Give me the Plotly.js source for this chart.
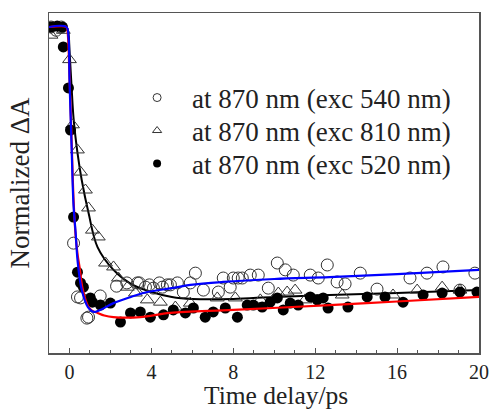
<!DOCTYPE html>
<html>
<head>
<meta charset="utf-8">
<script src="https://cdn.plot.ly/plotly-3.0.1.min.js"></script>
<style>html,body{margin:0;padding:0;background:#fff;}#chart{width:489px;height:410px;}</style>
</head>
<body>
<div id="chart"></div>
<script>
// ---- data (y normalized to plateau = 1) ----
var seriesNames = ["at 870 nm (exc 540 nm)", "at 870 nm (exc 810 nm)", "at 870 nm (exc 520 nm)"];
var xTitle = "Time delay/ps";
var yTitle = "Normalized ΔA";

// open circles: exc 540 nm
var t540 = [-0.9,-0.65,-0.4,0.2,0.39,0.54,0.85,0.93,1.5,2.3,2.8,3.32,3.41,3.71,3.9,4.1,4.39,4.54,4.78,4.93,5.27,5.56,5.9,6.15,6.54,7.27,7.51,7.85,8.0,8.24,8.44,8.83,9.22,9.71,10.15,10.54,10.93,11.76,12.15,12.59,13.07,13.46,14.2,15.02,16.63,17.46,18.24,19.07,19.8];
var y540 = [1.0,0.99,1.0,0.337,0.172,0.169,0.107,0.11,0.175,0.205,0.215,0.215,0.215,0.202,0.209,0.199,0.215,0.202,0.209,0.209,0.215,0.187,0.215,0.245,0.193,0.187,0.23,0.202,0.23,0.23,0.23,0.239,0.239,0.199,0.276,0.255,0.239,0.239,0.23,0.27,0.218,0.212,0.245,0.196,0.23,0.245,0.264,0.193,0.245];

// open triangles: exc 810 nm
var t810 = [-0.9,-0.8,-0.55,-0.3,0.0,0.15,0.39,0.54,0.78,0.93,1.12,1.41,1.76,2.15,2.39,2.83,3.22,3.8,4.44,5.17,5.9,7.22,8.1,9.32,10.2,10.63,11.02,11.51,13.32,15.8,16.98,18.2,19.07];
var y810 = [0.975,1.0,1.0,0.99,0.9,0.7,0.623,0.555,0.5,0.445,0.377,0.356,0.276,0.264,0.23,0.202,0.184,0.163,0.156,0.141,0.153,0.169,0.169,0.163,0.184,0.187,0.193,0.163,0.178,0.178,0.193,0.202,0.193];

// filled circles: exc 520 nm
var t520 = [-0.9,-0.6,-0.35,-0.3,-0.05,0.05,0.2,0.39,0.54,0.68,1.02,1.12,1.51,2.0,2.49,2.98,3.46,3.95,4.59,5.07,5.66,6.05,6.63,7.02,7.61,8.2,8.68,8.98,9.41,9.8,10.15,10.44,10.78,11.17,11.76,12.1,12.39,12.63,13.6,14.54,15.41,16.29,17.27,18.2,19.07,19.9];
var y520 = [1.0,1.003,1.0,0.939,0.813,0.684,0.417,0.248,0.215,0.202,0.169,0.156,0.147,0.153,0.095,0.123,0.126,0.11,0.117,0.132,0.123,0.138,0.11,0.126,0.138,0.11,0.147,0.147,0.141,0.156,0.169,0.132,0.153,0.147,0.172,0.163,0.169,0.138,0.141,0.172,0.172,0.156,0.178,0.184,0.187,0.187];

// fitted curves
var tFitRed = [-1,-0.15,-0.1,0,0.1,0.2,0.3,0.4,0.5,0.63,0.8,0.93,1.1,1.37,1.7,2.15,3.46,4.93,8,12.7,16,20];
var yFitRed = [1.0,1.0,0.99,0.85,0.66,0.47,0.36,0.3,0.26,0.2,0.16,0.141,0.13,0.123,0.115,0.11,0.11,0.123,0.132,0.147,0.158,0.172];

var tFitBlue = [-1,-0.15,-0.05,0,0.1,0.2,0.3,0.4,0.6,0.9,1.2,1.5,2.15,3.0,3.8,5.0,5.9,7.5,10,12.7,16,20];
var yFitBlue = [1.0,1.0,0.97,0.84,0.64,0.45,0.37,0.28,0.193,0.141,0.126,0.132,0.153,0.172,0.187,0.199,0.209,0.218,0.227,0.233,0.242,0.255];

var tFitBlack = [-1,-0.15,-0.05,0,0.1,0.2,0.4,0.6,0.93,1.37,2.15,3.0,4.0,5.0,6.0,8,10,12.7,16,20];
var yFitBlack = [1.0,1.0,0.98,0.93,0.82,0.72,0.61,0.53,0.43,0.325,0.255,0.212,0.187,0.172,0.166,0.166,0.172,0.178,0.184,0.193];

var xTickVals = [0,4,8,12,16,20];

// ---- traces ----
var serif = "Liberation Serif, Times New Roman, serif";
var ink = "#333";
function legendEntry(name, legendId, marker) {
  return {x: [null], y: [null], mode: "markers", name: name, legend: legendId, marker: marker, hoverinfo: "skip"};
}
var traces = [
  {x: tFitBlack, y: yFitBlack, mode: "lines", line: {color: "#000", width: 2, shape: "spline"}, showlegend: false, hoverinfo: "skip"},
  {x: t540, y: y540, mode: "markers", showlegend: false, marker: {symbol: "circle-open", size: 12, color: ink, line: {width: 1, color: ink}}},
  {x: t810, y: y810, mode: "markers", showlegend: false, marker: {symbol: "triangle-up-open", size: 12, color: ink, line: {width: 1, color: ink}}},
  {x: t520, y: y520, mode: "markers", showlegend: false, marker: {symbol: "circle", size: 11, color: "#000"}},
  {x: tFitRed, y: yFitRed, mode: "lines", line: {color: "#ff0000", width: 2.2, shape: "spline"}, showlegend: false, hoverinfo: "skip"},
  {x: tFitBlue, y: yFitBlue, mode: "lines", line: {color: "#0000ff", width: 2.2, shape: "spline"}, showlegend: false, hoverinfo: "skip"},
  legendEntry(seriesNames[0], "legend", {symbol: "circle-open", size: 8, color: ink, line: {width: 1, color: ink}}),
  legendEntry(seriesNames[1], "legend2", {symbol: "triangle-up-open", size: 8, color: ink, line: {width: 1, color: ink}}),
  legendEntry(seriesNames[2], "legend3", {symbol: "circle", size: 8, color: "#000"})
];

function legendBox(yPos) {
  return {x: 0.17, y: yPos, xanchor: "left", yanchor: "middle", bgcolor: "rgba(0,0,0,0)",
          font: {family: serif, size: 27, color: "#222"}, itemwidth: 60};
}

var layout = {
  width: 489, height: 410,
  margin: {l: 49, r: 10, t: 13, b: 57},
  paper_bgcolor: "#fff", plot_bgcolor: "#fff",
  font: {family: serif, color: "#222", size: 20},
  showlegend: true,
  legend: legendBox(0.75),
  legend2: legendBox(0.653),
  legend3: legendBox(0.556),
  xaxis: {
    range: [-1, 20], tickvals: xTickVals, ticktext: xTickVals.map(String),
    ticks: "inside", ticklen: 5, tickwidth: 1, tickcolor: "#555",
    minor: {dtick: 1, ticks: "inside", ticklen: 3, tickcolor: "#555", tickwidth: 1},
    showline: true, linecolor: "#555", linewidth: 1.5, mirror: true,
    showgrid: false, zeroline: false,
    tickfont: {family: serif, size: 20, color: "#222"}
  },
  yaxis: {
    range: [0, 1.043], showticklabels: false, ticks: "",
    showline: true, linecolor: "#555", linewidth: 1.5, mirror: true,
    showgrid: false, zeroline: false,
    title: {text: yTitle, font: {family: serif, size: 27, color: "#222"}, standoff: 10}
  },
  annotations: [
    {text: xTitle, xref: "paper", yref: "paper", x: 0.527, y: -0.125, xanchor: "center", yanchor: "middle",
     showarrow: false, borderpad: 0, font: {family: serif, size: 25.5, color: "#222"}}
  ]
};

Plotly.newPlot("chart", traces, layout, {displayModeBar: false, staticPlot: true});
</script>
</body>
</html>
